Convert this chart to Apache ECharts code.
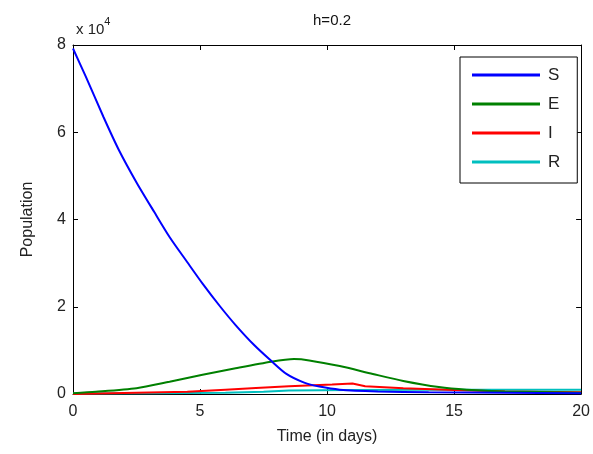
<!DOCTYPE html>
<html>
<head>
<meta charset="utf-8">
<script src="https://cdn.jsdelivr.net/npm/echarts@6/dist/echarts.min.js"></script>
<style>
  html, body { margin: 0; padding: 0; background: #fff; }
  #chart { width: 593px; height: 454px; }
</style>
</head>
<body>
<div id="chart"></div>
<script>
// values in units of 10^4 people
const sTime = [0, 0.5, 1.2, 1.8, 2.5, 3.2, 3.8, 4.5, 5.1, 5.8, 6.4, 7.1, 7.8, 8.4, 9.1, 9.7, 10.5, 12, 14, 17, 20];
const sValues = [7.92, 7.28, 6.35, 5.6, 4.85, 4.17, 3.6, 3.02, 2.53, 2.0, 1.58, 1.14, 0.76, 0.46, 0.26, 0.17, 0.1, 0.06, 0.04, 0.03, 0.02];

const eTime = [0, 0.9, 2.5, 3.8, 5.1, 6.4, 7.8, 8.7, 9.3, 10.5, 11.8, 13.0, 14.4, 15.5, 17, 20];
const eValues = [0.02, 0.05, 0.13, 0.28, 0.44, 0.59, 0.74, 0.8, 0.77, 0.64, 0.46, 0.3, 0.16, 0.1, 0.06, 0.03];

const iTime = [0, 4.5, 6.0, 7.2, 8.5, 10.2, 11.0, 11.5, 13, 15, 17, 20];
const iValues = [0, 0.05, 0.1, 0.14, 0.18, 0.22, 0.24, 0.18, 0.13, 0.09, 0.06, 0.04];

const rTime = [0, 3, 6, 7.5, 8.5, 11, 14, 17, 20];
const rValues = [0.01, 0.02, 0.03, 0.05, 0.08, 0.09, 0.1, 0.1, 0.1];

const seriesNames = ['S', 'E', 'I', 'R'];
const seriesColors = ['#0000ff', '#008000', '#ff0000', '#00bfbf'];

const yTicks = [0, 2, 4, 6, 8];
const xTicks = [0, 5, 10, 15, 20];

const font = '"Liberation Sans", Arial, sans-serif';

const pairs = (ts, vs) => ts.map((t, i) => [t, vs[i]]);
const allData = [
    pairs(sTime, sValues),
    pairs(eTime, eValues),
    pairs(iTime, iValues),
    pairs(rTime, rValues)
];

const chart = echarts.init(document.getElementById('chart'));

// MATLAB style box: ticks inside on all four sides
const xBase = {
    type: 'value',
    min: xTicks[0],
    max: xTicks[xTicks.length - 1],
    interval: 5,
    axisLine: { show: true, onZero: false, lineStyle: { color: '#000', width: 1 } },
    axisTick: { show: true, inside: true, length: 5, lineStyle: { color: '#000' } },
    splitLine: { show: false }
};
const yBase = {
    type: 'value',
    min: yTicks[0],
    max: yTicks[yTicks.length - 1],
    interval: 2,
    axisLine: { show: true, onZero: false, lineStyle: { color: '#000', width: 1 } },
    axisTick: { show: true, inside: true, length: 5, lineStyle: { color: '#000' } },
    splitLine: { show: false }
};

chart.setOption({
    animation: false,
    backgroundColor: '#fff',
    title: {
        text: 'h=0.2',
        left: 327,
        textAlign: 'center',
        top: 8,
        textStyle: { fontFamily: font, fontSize: 15, fontWeight: 'normal', color: '#111' }
    },
    grid: { left: 73, right: 11, top: 45, bottom: 60 },
    legend: {
        orient: 'vertical',
        left: 460,
        top: 57,
        padding: [9, 17, 12, 12],
        itemWidth: 68,
        itemHeight: 3,
        itemGap: 11,
        icon: 'rect',
        borderColor: '#000',
        borderWidth: 1,
        backgroundColor: '#fff',
        data: seriesNames,
        textStyle: { fontFamily: font, fontSize: 17, color: '#222', lineHeight: 18, padding: [0, 0, 0, 3] }
    },
    xAxis: [
        Object.assign({}, xBase, {
            position: 'bottom',
            name: 'Time (in days)',
            nameLocation: 'middle',
            nameGap: 35,
            nameTextStyle: { fontFamily: font, fontSize: 16, color: '#222' },
            axisLabel: { fontFamily: font, fontSize: 16, color: '#222', margin: 10 }
        }),
        Object.assign({}, xBase, { position: 'top', axisLabel: { show: false } })
    ],
    yAxis: [
        Object.assign({}, yBase, {
            position: 'left',
            name: 'Population',
            nameLocation: 'middle',
            nameGap: 37,
            nameTextStyle: { fontFamily: font, fontSize: 16, color: '#222' },
            axisLabel: { fontFamily: font, fontSize: 16, color: '#222', margin: 7 }
        }),
        Object.assign({}, yBase, { position: 'right', axisLabel: { show: false } })
    ],
    graphic: [{
        type: 'text',
        left: 76,
        top: 16,
        style: {
            text: '{a|x 10}{b|4}',
            rich: {
                a: { fontFamily: font, fontSize: 15, fill: '#222', verticalAlign: 'bottom', padding: [6, 0, 0, 0] },
                b: { fontFamily: font, fontSize: 11, fill: '#222', verticalAlign: 'top' }
            }
        }
    }],
    series: seriesNames.map((name, i) => ({
        name: name,
        type: 'line',
        data: allData[i],
        showSymbol: false,
        smooth: i < 2 ? 0.25 : false,
        z: 10 - i,
        color: seriesColors[i],
        lineStyle: { width: 2, color: seriesColors[i] }
    }))
});
</script>
</body>
</html>
